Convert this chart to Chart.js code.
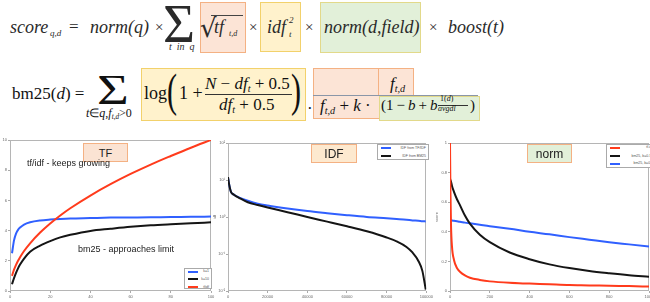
<!DOCTYPE html>
<html><head><meta charset="utf-8">
<script src="https://cdn.jsdelivr.net/npm/chart.js@4.4.1/dist/chart.umd.min.js"></script>
<style>
html,body{margin:0;padding:0;background:#fff;width:650px;height:302px;overflow:hidden;position:relative;}
.a{position:absolute;white-space:nowrap;line-height:1;color:#2a2a2a;}
.a sub{font-size:0.6em;vertical-align:-0.3em;line-height:0;}
.a sup{font-size:0.6em;vertical-align:0.6em;line-height:0;}
canvas{position:absolute;}
.bx{position:absolute;box-sizing:border-box;}
.lg{position:absolute;box-sizing:border-box;border:1px solid #aaa;background:#fff;overflow:hidden;}
.lg div{position:absolute;}
.ann{position:absolute;box-sizing:border-box;display:flex;align-items:center;justify-content:center;font-family:'Liberation Sans',sans-serif;color:#222;}
</style></head><body>
<canvas id="c1" width="216" height="172" style="left:0;top:130px"></canvas>
<canvas id="c2" width="222" height="172" style="left:212px;top:130px"></canvas>
<canvas id="c3" width="224" height="172" style="left:434px;top:130px"></canvas>
<script>
// ---------- data ----------
const tfX = [1,2,3,4,5,7,10,15,20,25,30,40,50,60,70,80,90,100];
const tfK1 = [2.5,3.35,3.8,4.05,4.2,4.4,4.55,4.67,4.73,4.77,4.8,4.83,4.86,4.87,4.88,4.9,4.91,4.93];
const tfK10 = [0.45,0.85,1.2,1.5,1.75,2.15,2.6,3.0,3.3,3.55,3.72,3.98,4.12,4.25,4.35,4.42,4.48,4.55];
const tfTfidf = [1.0,1.41,1.73,2.0,2.24,2.65,3.16,3.87,4.47,5.0,5.48,6.32,7.07,7.75,8.37,8.94,9.49,10.0];
const tfLabels = ['k=1','k=10','tfidf'];
const tfXTicks = [0,20,40,60,80,100];
const tfYTicks = [0,2,4,6,8,10];
const tfYLabels = ['0','2','4','6','8','10'];

const idfX = [0,500,1500,3000,6000,10000,15000,20000,30000,40000,50000,60000,70000,80000,85000,90000,93000,96000,98000,99700];
const idfTfidf = [12,8,4.8,4.0,3.3,2.75,2.3,2.05,1.7,1.45,1.27,1.12,1.0,0.92,0.88,0.84,0.81,0.79,0.77,0.76];
const idfBm25 = [12,8,4.8,4.0,3.2,2.5,2.1,1.8,1.35,1.0,0.75,0.56,0.41,0.28,0.22,0.155,0.11,0.065,0.035,0.011];
const idfLabels = ['IDF from TF/IDF','IDF from BM25'];
const idfXTicks = [0,20000,40000,60000,80000,100000];
const idfYTicks = [0.01,0.1,1,10,100];
const idfYLabels = ['10\u207B\u00B2','10\u207B\u00B9','10\u2070','10\u00B9','10\u00B2'];

const normX = [0,2,5,10,20,35,50,75,100,150,200,300,400,500,600,700,800,900,1000];
const normTfidf = [1.0,0.7,0.45,0.3,0.21,0.155,0.13,0.105,0.09,0.075,0.065,0.055,0.05,0.045,0.04,0.038,0.035,0.033,0.03];
const normB075 = [0.76,0.75,0.74,0.71,0.67,0.62,0.58,0.51,0.455,0.38,0.33,0.26,0.215,0.18,0.155,0.135,0.12,0.107,0.097];
const normB01 = [0.48,0.479,0.478,0.476,0.474,0.471,0.468,0.462,0.457,0.447,0.437,0.42,0.40,0.383,0.364,0.347,0.33,0.315,0.30];
const normLabels = ['tf-idf','bm25, b=0.75','bm25, b=0.1'];
const normXTicks = [0,200,400,600,800,1000];
const normYTicks = [0,0.2,0.4,0.6,0.8,1];
const normYLabels = ['0','0.2','0.4','0.6','0.8','1'];

const RED = '#ff3b1c', BLUE = '#3060ff', BLACK = '#151515';

// ---------- formula helpers ----------
function put(html, x, base, size, o) {
  o = o || {};
  const d = document.createElement('div');
  d.className = 'a';
  d.innerHTML = html;
  d.style.left = x + 'px';
  d.style.top = (base - 0.84 * size) + 'px';
  d.style.fontSize = size + 'px';
  d.style.fontFamily = o.family || "'Liberation Serif', serif";
  if (o.italic) d.style.fontStyle = 'italic';
  if (o.color) d.style.color = o.color;
  if (o.transform) { d.style.transform = o.transform; d.style.transformOrigin = '0 ' + (0.84 * size) + 'px'; }
  document.body.appendChild(d);
}
function box(x, y, w, h, fill, stroke) {
  const d = document.createElement('div');
  d.className = 'bx';
  Object.assign(d.style, {left: x + 'px', top: y + 'px', width: w + 'px', height: h + 'px', background: fill, border: '1px solid ' + stroke});
  document.body.appendChild(d);
}
function hline(x, y, w, c, t) {
  const d = document.createElement('div');
  d.className = 'bx';
  Object.assign(d.style, {left: x + 'px', top: y + 'px', width: w + 'px', height: '0', borderTop: t + 'px solid ' + c});
  document.body.appendChild(d);
}
const PINKF = '#fce4d6', PINKS = '#f4b183', YELF = '#fff2cc', YELS = '#f2d16b', GRNF = '#e2f0d9', GRNS = '#e2d98a';
const K = '#111';

// formula 1
box(200, 2, 46, 51, PINKF, PINKS);
box(260, 2, 41, 50, YELF, YELS);
box(320, 2, 101, 51, GRNF, GRNS);
put('score', 10, 33, 18, {italic: true});
put('q,d', 50, 37, 9, {italic: true});
put('=', 69, 32, 17);
put('norm(q)', 90, 33, 18, {italic: true});
put('\u00D7', 155, 33, 15);
put('\u03A3', 163, 42, 55);
put('t&nbsp;&nbsp;in&nbsp;&nbsp;q', 169, 50, 10, {italic: true});
put('\u221A', 200, 37, 26, {family: "'DejaVu Serif', serif"});
hline(211, 15, 32, '#444', 1);
put('tf', 214, 33, 18, {italic: true});
put('t,d', 229, 37, 8, {italic: true});
put('\u00D7', 249, 33, 15);
put('idf', 267, 33, 18, {italic: true});
put('2', 289, 24, 9, {italic: true});
put('t', 289, 38, 9, {italic: true});
put('\u00D7', 305, 33, 15);
put('norm(d,field)', 324, 33, 18, {italic: true});
put('\u00D7', 429, 33, 15);
put('boost(t)', 448, 33, 18, {italic: true});

// formula 2
box(141, 68, 165, 53, YELF, YELS);
box(313, 68, 101, 51, PINKF, PINKS);
box(378, 68, 36, 28, PINKF, PINKS);
box(379, 96, 101, 25, GRNF, GRNS);
put('bm25(<i>d</i>) =', 12, 99, 17, {color: K});
put('\u03A3', 97, 104, 42, {transform: 'scaleX(1.3)', color: K});
put('<i>t</i>\u2208<i>q</i>,<i>f</i><sub><i>t,d</i></sub>&gt;0', 86, 117, 12, {color: K});
put('log', 144, 99, 18, {color: K});
put('(', 167, 106, 47, {transform: 'scaleX(0.64)', color: K});
put('1 +', 179, 99, 18, {color: K});
put('<i>N</i> \u2212 <i>df</i><sub><i>t</i></sub> + 0.5', 205, 89, 17, {color: K});
hline(205, 94, 87, '#333', 1);
put('<i>df</i><sub><i>t</i></sub> + 0.5', 219, 110, 17, {color: K});
put(')', 291, 106, 47, {transform: 'scaleX(0.64)', color: K});
put('\u00B7', 307, 114, 17, {color: K});
put('<i>f</i><sub><i>t,d</i></sub>', 390, 89, 17, {color: K});
hline(313, 95, 165, '#8a96a8', 1.5);
put('<i>f</i><sub><i>t,d</i></sub> + <i>k</i> \u00B7', 320, 111, 17, {color: K});
put('(1&thinsp;\u2212&thinsp;<i>b</i>&thinsp;+&thinsp;<i>b</i>', 381, 111, 15, {color: K});
put('1(<i>d</i>)', 440, 102, 8, {color: K});
hline(438, 104.5, 30, '#333', 0.8);
put('<i>avgdl</i>', 438, 112, 8, {color: K});
put(')', 470, 111, 15, {color: K});

// ---------- charts ----------
const frame = {id: 'frame', beforeDatasetsDraw(c) {
  const a = c.chartArea, x = c.ctx; x.save(); x.strokeStyle = '#b5b5b5'; x.lineWidth = 1;
  x.strokeRect(Math.round(a.left) + 0.5, Math.round(a.top) + 0.5, Math.round(a.right - a.left) - 1, Math.round(a.bottom - a.top) - 1); x.restore();
}};
const TF = {size: 4, family: "'Liberation Sans', sans-serif"};
function xAxis(ticks, min, max) {
  return {type: 'linear', min, max,
    afterBuildTicks: s => { s.ticks = ticks.map(v => ({value: v})); },
    afterFit: s => { s.height = 11; },
    grid: {display: true, drawOnChartArea: false, tickLength: 2, color: '#aaa'},
    border: {display: false},
    ticks: {font: TF, color: '#666', padding: 1, maxRotation: 0, autoSkip: false, callback: v => String(v)}};
}
function yAxis(type, ticks, labels, min, max, w, title) {
  return {type, min, max,
    afterBuildTicks: s => { s.ticks = ticks.map(v => ({value: v})); },
    afterFit: s => { s.width = w; },
    grid: {display: true, drawOnChartArea: false, tickLength: 2, color: '#aaa'},
    border: {display: false},
    title: {display: !!title, text: title || '', font: TF, color: '#666', padding: 0},
    ticks: {font: TF, color: '#666', padding: 1, autoSkip: false, callback: (v, i) => labels[i]}};
}
function ds(label, xs, ys, color, order) {
  return {label, data: xs.map((x, i) => ({x, y: ys[i]})), borderColor: color, backgroundColor: color, order, fill: false};
}
function opts(xa, ya, padT, padR) {
  return {responsive: false, animation: false,
    layout: {padding: {top: padT, right: padR, left: 0, bottom: 0}},
    elements: {point: {radius: 0}, line: {borderWidth: 2, cubicInterpolationMode: 'monotone'}},
    plugins: {legend: {display: false}, tooltip: {enabled: false}},
    scales: {x: xa, y: ya}};
}
const ch1 = new Chart(document.getElementById('c1'), {type: 'line', plugins: [frame],
  data: {datasets: [ds(tfLabels[0], tfX, tfK1, BLUE, 1), ds(tfLabels[1], tfX, tfK10, BLACK, 2), ds(tfLabels[2], tfX, tfTfidf, RED, 0)]},
  options: opts(xAxis(tfXTicks, 0, 100), yAxis('linear', tfYTicks, tfYLabels, 0, 10, 10, ''), 10, 5)});
const ch2 = new Chart(document.getElementById('c2'), {type: 'line', plugins: [frame],
  data: {datasets: [ds(idfLabels[0], idfX, idfTfidf, BLUE, 1), ds(idfLabels[1], idfX, idfBm25, BLACK, 0)]},
  options: opts(xAxis(idfXTicks, 0, 100000), yAxis('logarithmic', idfYTicks, idfYLabels, 0.01, 100, 16, 'idf'), 13, 6)});
const ch3 = new Chart(document.getElementById('c3'), {type: 'line', plugins: [frame],
  data: {datasets: [ds(normLabels[0], normX, normTfidf, RED, 0), ds(normLabels[1], normX, normB075, BLACK, 1), ds(normLabels[2], normX, normB01, BLUE, 2)]},
  options: opts(xAxis(normXTicks, 0, 1000), yAxis('linear', normYTicks, normYLabels, 0, 1, 16, 'score'), 13, 9)});

// ---------- legends & annotations ----------
function legend(chart, left, top, w, h, rows) {
  const d = document.createElement('div');
  d.className = 'lg';
  Object.assign(d.style, {left: left + 'px', top: top + 'px', width: w + 'px', height: h + 'px'});
  chart.data.datasets.forEach((s, i) => {
    const ln = document.createElement('div');
    Object.assign(ln.style, {left: '3px', top: (rows[i] - 1) + 'px', width: '10px', height: '2px', background: s.borderColor});
    d.appendChild(ln);
    const t = document.createElement('div');
    Object.assign(t.style, {right: '2px', top: (rows[i] - 2.5) + 'px', fontSize: '3.5px', lineHeight: '5px', color: '#555', fontFamily: "'Liberation Sans',sans-serif", whiteSpace: 'nowrap'});
    t.textContent = s.label;
    d.appendChild(t);
  });
  document.body.appendChild(d);
}
legend(ch1, 184, 268, 28, 21, [2.7, 10.3, 18]);
legend(ch2, 377, 144, 52, 16, [3.3, 11]);
legend(ch3, 606, 144, 50, 24, [2.7, 11, 18.7]);

function ann(text, x, y, w, h, fill, stroke, size) {
  const d = document.createElement('div');
  d.className = 'ann';
  Object.assign(d.style, {left: x + 'px', top: y + 'px', width: w + 'px', height: h + 'px', background: fill, border: '1px solid ' + stroke, fontSize: size + 'px'});
  d.textContent = text;
  document.body.appendChild(d);
}
ann('TF', 83, 143, 45, 19, '#fbe3d3', '#f4b183', 11);
ann('IDF', 311, 144, 46, 19, '#fde9cf', '#f4b183', 12);
ann('norm', 527, 144, 45, 19, '#e2f0d9', '#f4b183', 12);
put('tf/idf - keeps growing', 27, 167, 9, {family: "'Liberation Sans', sans-serif", color: '#222'});
put('bm25 - approaches limit', 78, 253, 9, {family: "'Liberation Sans', sans-serif", color: '#222'});
</script>
</body></html>
